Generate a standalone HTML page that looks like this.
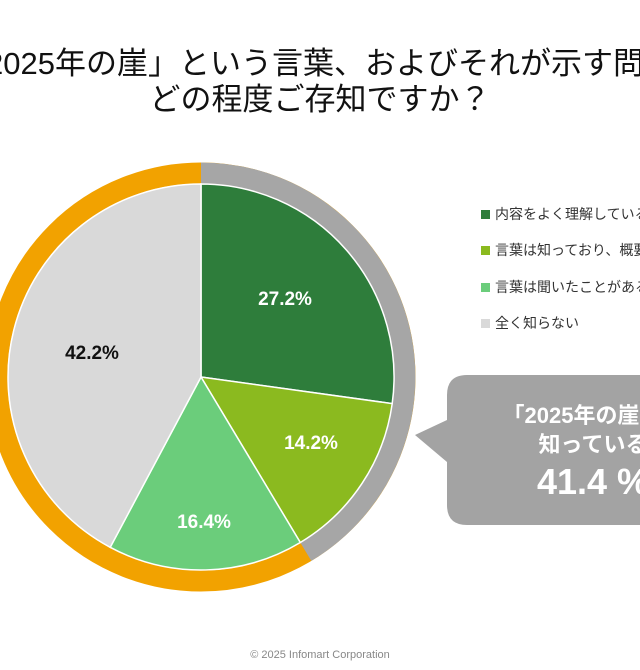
<!DOCTYPE html>
<html><head><meta charset="utf-8"><style>
body{margin:0;width:640px;height:670px;overflow:hidden;background:#fff;position:relative;font-family:"Liberation Sans","Noto Sans CJK JP",sans-serif}
.t{position:absolute;white-space:nowrap;color:#111;font-size:31px;line-height:40px}
.lg{position:absolute;left:481px;font-size:14px;color:#333;white-space:nowrap}
.lg i{display:inline-block;width:9px;height:9px;margin-right:5px;vertical-align:0}
</style></head><body>
<div class="t" style="left:-45px;top:44px">「2025年の崖」という言葉、およびそれが示す問題を</div>
<div class="t" style="left:0;width:640px;text-align:center;top:80px">どの程度ご存知ですか？</div>
<svg width="640" height="670" style="position:absolute;left:0;top:0">
<circle cx="201" cy="377" r="204" fill="none" stroke="#f2a200" stroke-width="21"/>
<path d="M201 173 A204 204 0 0 1 305.9 551.9" fill="none" stroke="#a6a6a6" stroke-width="21"/>
<g stroke="#fff" stroke-width="1.5">
<path d="M201 377 L201 184 A193 193 0 0 1 392.2 403.6Z" fill="#2e7d3b"/>
<path d="M201 377 L392.2 403.6 A193 193 0 0 1 300.3 542.5Z" fill="#8bba1f"/>
<path d="M201 377 L300.3 542.5 A193 193 0 0 1 110.2 547.3Z" fill="#6bcd7b"/>
<path d="M201 377 L110.2 547.3 A193 193 0 0 1 201 184Z" fill="#d9d9d9"/>
</g>
<g font-family="Liberation Sans,sans-serif" font-weight="bold" font-size="19" text-anchor="middle">
<text x="285" y="305" fill="#fff">27.2%</text>
<text x="311" y="449" fill="#fff">14.2%</text>
<text x="204" y="528" fill="#fff">16.4%</text>
<text x="92" y="359" fill="#111">42.2%</text>
</g>
<path d="M467 375 H660 V525 H467 Q447 525 447 505 V462 L415 435 L447 420 V395 Q447 375 467 375Z" fill="#a3a3a3"/>
<g fill="#fff" font-family="Liberation Sans,'Noto Sans CJK JP',sans-serif" font-weight="bold" text-anchor="middle">
<text x="593" y="423" font-size="22">「2025年の崖」を</text>
<text x="593" y="452" font-size="22">知っている</text>
<text x="593" y="494" font-size="36">41.4 %</text>
</g>
</svg>
<div class="lg" style="top:204px"><i style="background:#2e7d3b"></i>内容をよく理解している</div>
<div class="lg" style="top:240px"><i style="background:#8bba1f"></i>言葉は知っており、概要も知っている</div>
<div class="lg" style="top:277px"><i style="background:#6bcd7b"></i>言葉は聞いたことがある</div>
<div class="lg" style="top:313px"><i style="background:#d9d9d9"></i>全く知らない</div>
<div style="position:absolute;top:649px;width:640px;text-align:center;font-size:11px;color:#888">© 2025 Infomart Corporation</div>
</body></html>
